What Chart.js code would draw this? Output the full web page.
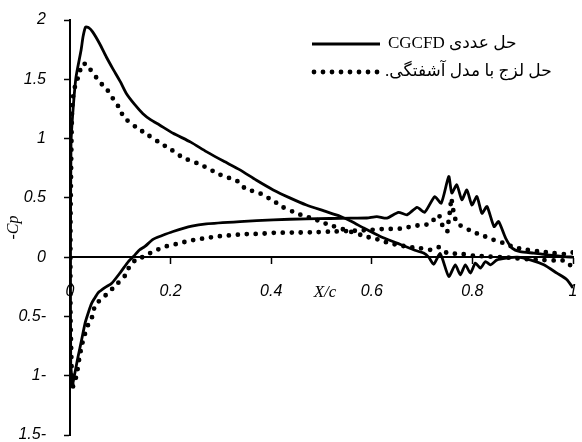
<!DOCTYPE html>
<html>
<head>
<meta charset="utf-8">
<script src="https://cdn.jsdelivr.net/npm/chart.js@4.4.1/dist/chart.umd.min.js"></script>
<style>
  html, body { margin: 0; padding: 0; background: #fff; }
  canvas { display: block; }
</style>
</head>
<body>
<canvas id="cp" width="582" height="442"></canvas>
<script>
// Pressure coefficient (-Cp) along the chord, X/c.
// CGCFD numerical solution: suction side, from the stagnation point to the trailing edge
const cfdUpperX = [0.005, 0.0015, 0.001, 0.002, 0.006, 0.012, 0.022, 0.026, 0.031, 0.037, 0.045, 0.059, 0.072, 0.085, 0.1, 0.112,
  0.128, 0.145, 0.16, 0.178, 0.205, 0.24, 0.271, 0.305, 0.338, 0.37, 0.404, 0.437, 0.47, 0.505, 0.537, 0.56, 0.584,
  0.617, 0.65, 0.683, 0.703, 0.713, 0.723, 0.736, 0.753, 0.766, 0.776, 0.786, 0.796, 0.806, 0.816, 0.826, 0.836,
  0.849, 0.869, 0.889, 0.915, 0.942, 0.968, 0.988, 1.0];
const cfdUpperY = [-1.08, -0.9, 0.0, 0.96, 1.24, 1.52, 1.745, 1.86, 1.94, 1.935, 1.9, 1.8, 1.69, 1.59, 1.48, 1.38,
  1.29, 1.21, 1.16, 1.115, 1.045, 0.97, 0.89, 0.81, 0.736, 0.65, 0.567, 0.5, 0.44, 0.39, 0.345, 0.3, 0.245,
  0.174, 0.118, 0.062, 0.034, 0.0, -0.06, 0.03, -0.163, -0.065, -0.149, -0.065, -0.135, -0.05, -0.093, -0.037, -0.065,
  -0.023, -0.008, 0.0, -0.023, -0.065, -0.135, -0.19, -0.26];

// CGCFD numerical solution: pressure side
const cfdLowerX = [0.005, 0.01, 0.016, 0.023, 0.03, 0.037, 0.043, 0.05, 0.056, 0.07, 0.083, 0.1, 0.116, 0.126, 0.138,
  0.149, 0.165, 0.182, 0.205, 0.242, 0.271, 0.338, 0.404, 0.47, 0.517, 0.558, 0.59, 0.61, 0.63, 0.653, 0.67, 0.69,
  0.705, 0.725, 0.738, 0.753, 0.759, 0.769, 0.779, 0.789, 0.799, 0.809, 0.819, 0.829, 0.843, 0.852, 0.866, 0.879,
  0.895, 0.922, 0.948, 0.982, 1.0];
const cfdLowerY = [-1.08, -0.97, -0.84, -0.7, -0.556, -0.46, -0.39, -0.34, -0.3, -0.255, -0.22, -0.13, -0.037, 0.005, 0.06,
  0.09, 0.15, 0.18, 0.216, 0.262, 0.281, 0.3, 0.315, 0.323, 0.326, 0.329, 0.33, 0.342, 0.329, 0.378, 0.357, 0.42,
  0.378, 0.51, 0.455, 0.68, 0.54, 0.61, 0.483, 0.567, 0.44, 0.511, 0.37, 0.427, 0.258, 0.3, 0.16, 0.076,
  0.047, 0.034, 0.02, 0.005, 0.0];

// Viscous solution with turbulence model: suction side
const viscUpperX = [0.004, 0.001, 0.001, 0.003, 0.004, 0.006, 0.01, 0.018, 0.024, 0.032, 0.04, 0.055, 0.065, 0.075, 0.085,
  0.097, 0.107, 0.13, 0.155, 0.18, 0.2, 0.224, 0.26, 0.296, 0.333, 0.348, 0.379, 0.406, 0.424, 0.444, 0.464, 0.484,
  0.502, 0.522, 0.55, 0.58, 0.6, 0.616, 0.63, 0.65, 0.676, 0.696, 0.716, 0.733, 0.75, 0.776, 0.802, 0.829, 0.856,
  0.882, 0.909, 0.935, 0.962, 0.985, 0.995];
const viscUpperY = [-1.07, -0.5, 0.3, 1.0, 1.23, 1.35, 1.44, 1.54, 1.63, 1.627, 1.585, 1.5, 1.45, 1.405, 1.34,
  1.265, 1.18, 1.1, 1.03, 0.96, 0.91, 0.84, 0.78, 0.7, 0.64, 0.58, 0.535, 0.47, 0.42, 0.382, 0.348, 0.325,
  0.292, 0.264, 0.225, 0.185, 0.16, 0.146, 0.123, 0.104, 0.084, 0.076, 0.062, 0.084, 0.034, 0.028, 0.013, 0.005, 0.0,
  -0.008, -0.017, -0.023, -0.028, -0.03, -0.07];

// Viscous solution with turbulence model: pressure side
const viscLowerX = [0.006, 0.013, 0.018, 0.023, 0.028, 0.036, 0.045, 0.049, 0.057, 0.066, 0.076, 0.084, 0.093, 0.101,
  0.109, 0.119, 0.129, 0.142, 0.157, 0.175, 0.19, 0.207, 0.223, 0.24, 0.257, 0.274, 0.292, 0.311, 0.33, 0.348,
  0.368, 0.385, 0.405, 0.444, 0.484, 0.522, 0.55, 0.58, 0.6, 0.616, 0.658, 0.678, 0.696, 0.715, 0.733, 0.74, 0.75,
  0.753, 0.756, 0.758, 0.763, 0.769, 0.786, 0.796, 0.809, 0.822, 0.842, 0.862, 0.882, 0.909, 0.935, 0.962, 0.988, 1.0];
const viscLowerY = [-1.09, -1.0, -0.866, -0.754, -0.67, -0.57, -0.495, -0.416, -0.374, -0.337, -0.304, -0.267, -0.228, -0.197,
  -0.158, -0.073, -0.029, -0.004, 0.03, 0.065, 0.09, 0.106, 0.123, 0.14, 0.152, 0.163, 0.174, 0.182, 0.188, 0.194,
  0.196, 0.199, 0.205, 0.207, 0.21, 0.216, 0.22, 0.225, 0.23, 0.236, 0.241, 0.258, 0.27, 0.28, 0.357, 0.272, 0.216,
  0.32, 0.405, 0.497, 0.37, 0.287, 0.245, 0.224, 0.2, 0.18, 0.146, 0.118, 0.084, 0.062, 0.047, 0.034, 0.025, 0.04];

const seriesNames = ['CGCFD حل عددی', '.حل لزج با مدل آشفتگی'];
const yTickValues = [-1.5, -1, -0.5, 0, 0.5, 1, 1.5, 2];
const xTickValues = [0, 0.2, 0.4, 0.6, 0.8, 1];
const xTitle = 'X/c';
const yTitle = '-Cp';

const toPoints = (xs, ys) => xs.map((x, i) => ({ x, y: ys[i] }));

const solidStyle = { borderColor: '#000', borderWidth: 2.8, pointRadius: 0, tension: 0.2, fill: false };
const dottedStyle = { borderColor: '#000', borderWidth: 4.8, borderDash: [0, 9], borderCapStyle: 'round',
  pointRadius: 0, tension: 0.15, fill: false };

const datasets = [
  { label: seriesNames[0], data: toPoints(cfdUpperX, cfdUpperY), ...solidStyle },
  { label: seriesNames[0], data: toPoints(cfdLowerX, cfdLowerY), ...solidStyle },
  { label: seriesNames[1], data: toPoints(viscUpperX, viscUpperY), ...dottedStyle },
  { label: seriesNames[1], data: toPoints(viscLowerX, viscLowerY), ...dottedStyle }
];

// Legend in the upper right corner plus the X/c caption beside the tick labels
const cornerLegend = {
  id: 'cornerLegend',
  afterDraw(chart) {
    const { ctx } = chart;
    const rows = [
      { style: solidStyle, y: 44, x0: 312, x1: 380, tx: 388, text: seriesNames[0] },
      { style: dottedStyle, y: 72, x0: 314, x1: 381, tx: 385, text: seriesNames[1] }
    ];
    ctx.save();
    rows.forEach(r => {
      ctx.beginPath();
      ctx.strokeStyle = r.style.borderColor;
      ctx.lineWidth = r.style.borderWidth;
      ctx.lineCap = r.style.borderCapStyle || 'butt';
      ctx.setLineDash(r.style.borderDash || []);
      ctx.moveTo(r.x0, r.y);
      ctx.lineTo(r.x1, r.y);
      ctx.stroke();
      ctx.setLineDash([]);
      ctx.fillStyle = '#000';
      ctx.font = '17px "Liberation Serif", "DejaVu Sans", serif';
      ctx.textAlign = 'left';
      ctx.textBaseline = 'middle';
      ctx.direction = 'ltr';
      ctx.fillText(r.text, r.tx, r.y);
    });
    const xs = chart.scales.x, ys = chart.scales.y;
    ctx.font = 'italic 17px "Liberation Serif", serif';
    ctx.textAlign = 'center';
    ctx.textBaseline = 'middle';
    ctx.fillText(xTitle, xs.getPixelForValue(0.507), ys.getPixelForValue(0) + 35);
    ctx.restore();
  }
};

const tickFont = { family: '"Liberation Sans", Arial, sans-serif', size: 16, style: 'italic' };

new Chart(document.getElementById('cp'), {
  type: 'line',
  data: { datasets },
  options: {
    responsive: false,
    animation: false,
    events: [],
    layout: { padding: { left: 0, right: 9, top: 20, bottom: 7 } },
    plugins: { legend: { display: false }, tooltip: { enabled: false } },
    scales: {
      x: {
        type: 'linear', min: 0, max: 1, position: { y: 0 },
        afterBuildTicks: s => { s.ticks = xTickValues.map(value => ({ value })); },
        ticks: { padding: 19, color: '#000', font: tickFont, maxRotation: 0, autoSkip: false,
          callback: v => String(+v.toFixed(1)) },
        grid: { drawOnChartArea: false, drawTicks: true, tickLength: 6, tickColor: '#000', tickWidth: 1.5 },
        border: { display: true, color: '#000', width: 2 },
        afterFit: s => { s.paddingLeft = 0; s.paddingRight = 0; }
      },
      y: {
        type: 'linear', min: -1.5, max: 2, position: 'left',
        afterBuildTicks: s => { s.ticks = yTickValues.map(value => ({ value })); },
        ticks: { padding: 18, color: '#000', font: tickFont, autoSkip: false,
          callback: v => v < 0 ? String(Math.abs(v)) + '-' : String(v) },
        grid: { drawOnChartArea: false, drawTicks: true, tickLength: 6, tickColor: '#000', tickWidth: 1.5 },
        border: { display: true, color: '#000', width: 2 },
        title: { display: true, text: yTitle, color: '#000', padding: { top: 4, bottom: 0 },
          font: { family: '"Liberation Serif", serif', size: 16, style: 'italic' } },
        afterFit: s => { s.width = 70; s.paddingTop = 0; s.paddingBottom = 0; }
      }
    }
  },
  plugins: [cornerLegend]
});
</script>
</body>
</html>
